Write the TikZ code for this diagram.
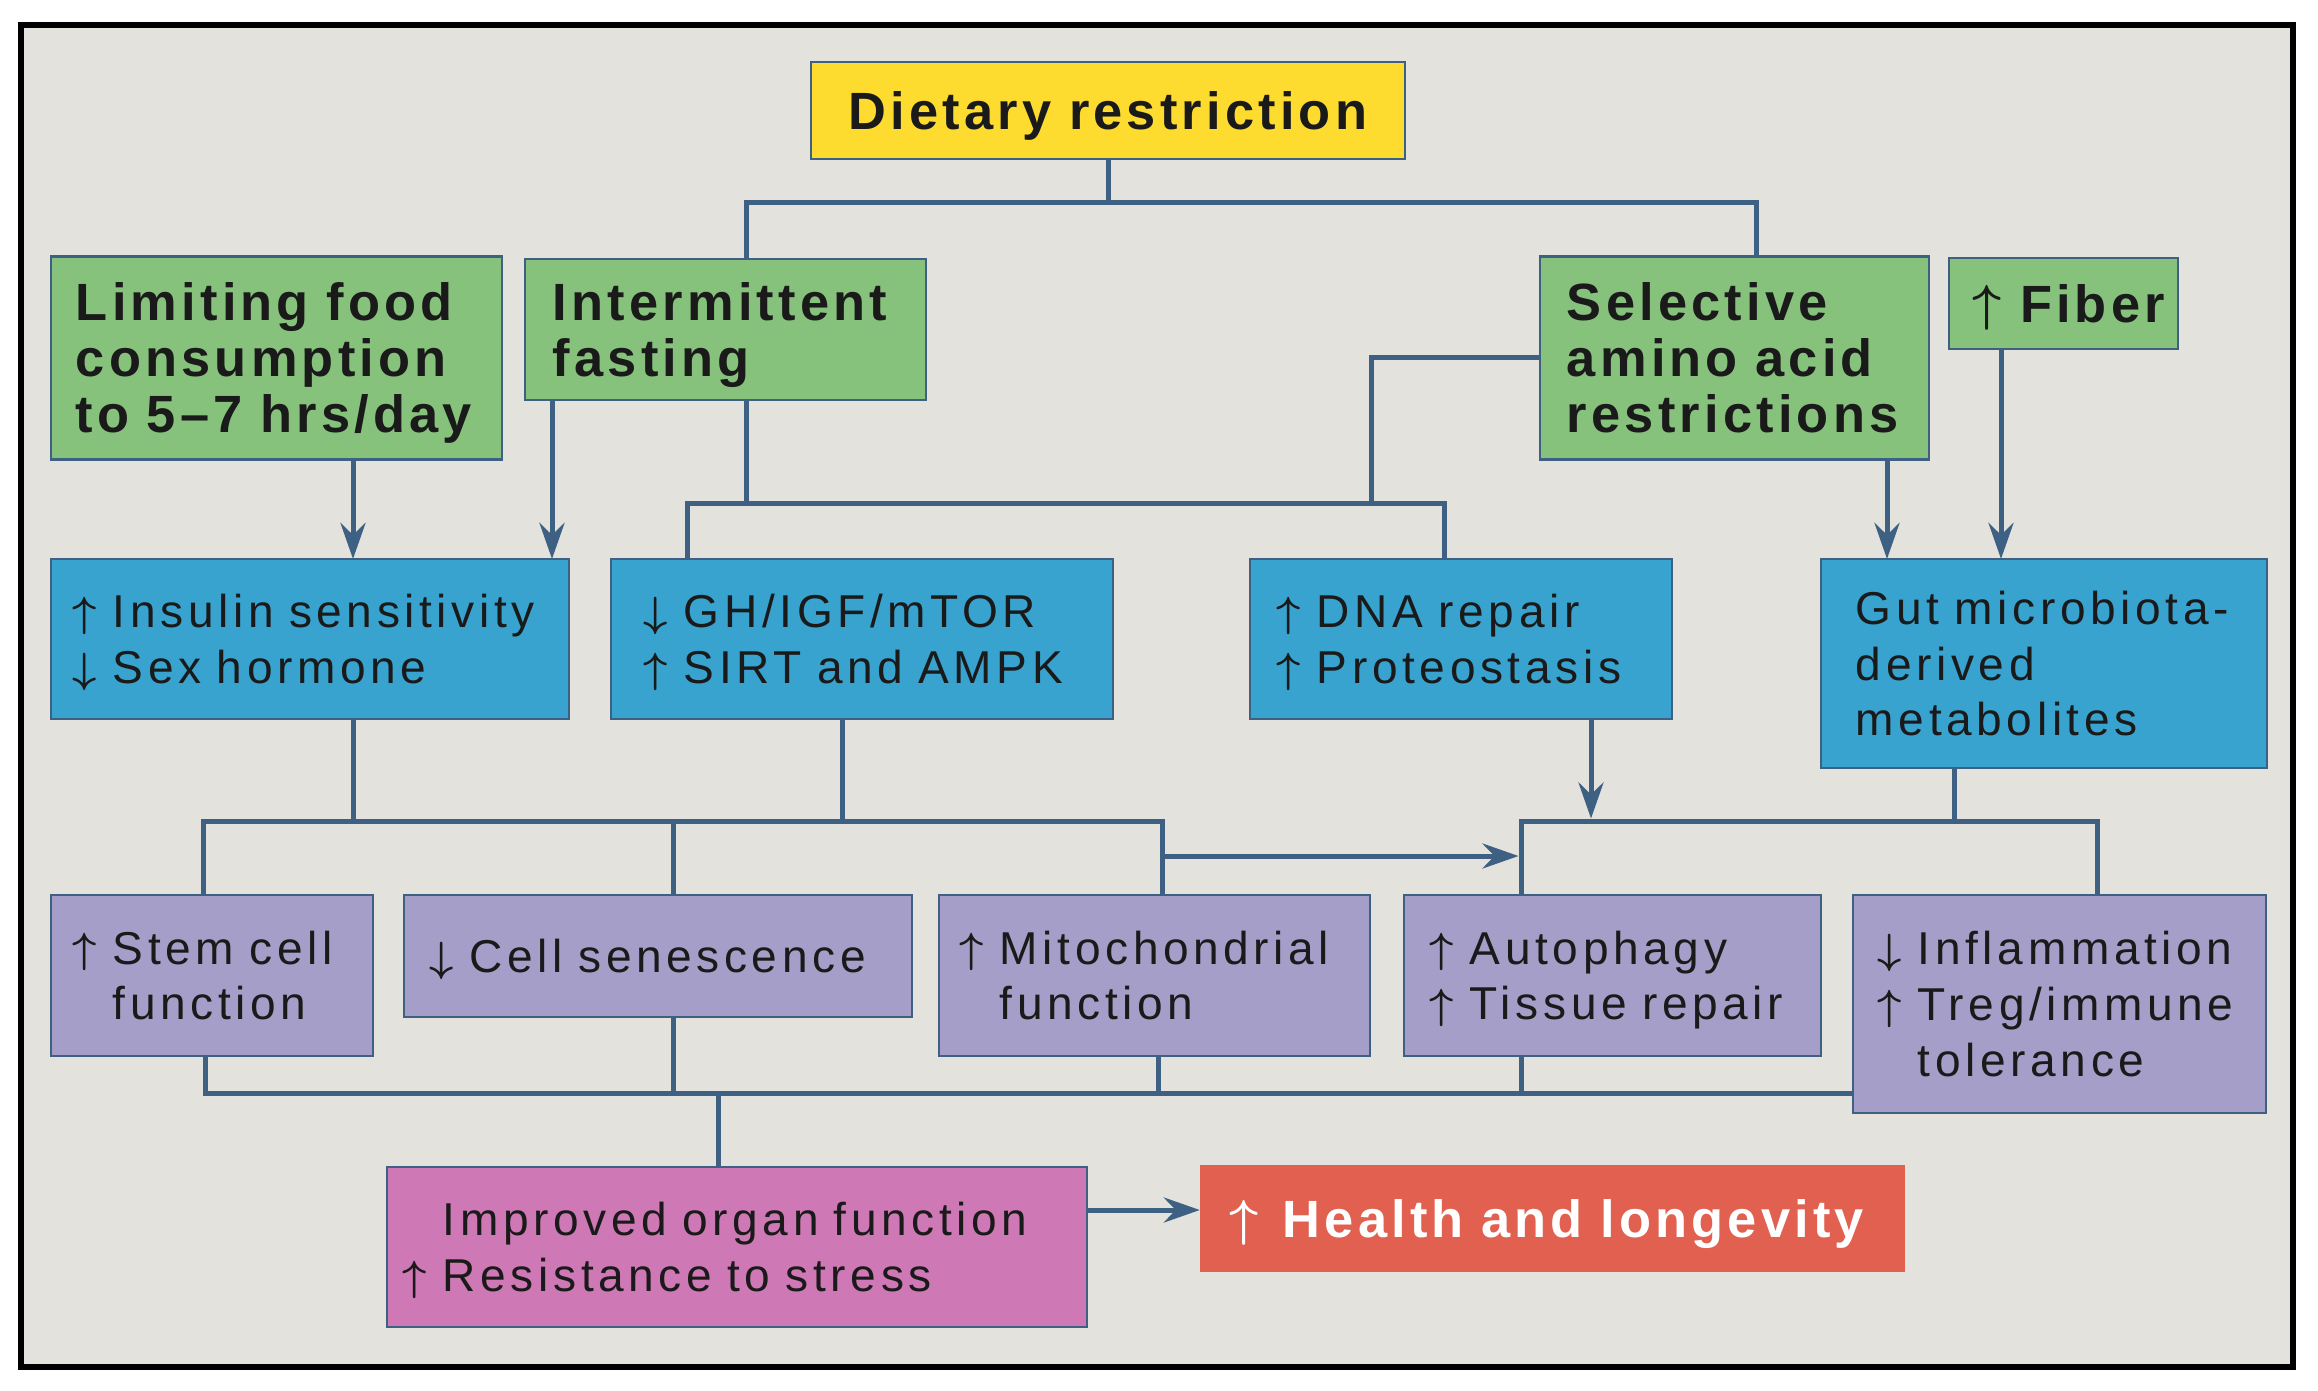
\documentclass[tikz,border=0pt]{standalone}
\usepackage{fontspec}
\setmainfont{Liberation Sans}[LetterSpace=10, BoldFeatures={LetterSpace=8}]
\usetikzlibrary{arrows.meta}
\definecolor{bgc}{HTML}{E4E2DD}
\definecolor{yel}{HTML}{FDDB2F}
\definecolor{grn}{HTML}{87C27D}
\definecolor{blu}{HTML}{38A3CF}
\definecolor{pur}{HTML}{A59EC8}
\definecolor{pnk}{HTML}{CE78B5}
\definecolor{redc}{HTML}{E2604F}
\definecolor{lnc}{HTML}{3D6083}
\definecolor{txc}{HTML}{1A1A1A}
\newcommand\UpA{\makebox[0.40cm][l]{\raisebox{0.03em}{\boldmath$\uparrow$}}}
\newcommand\DnA{\makebox[0.40cm][l]{\raisebox{0.03em}{\boldmath$\downarrow$}}}
\newcommand\IndA{\hspace*{0.40cm}}
\newcommand\UpB{\makebox[0.47cm][l]{\raisebox{0.03em}{\boldmath$\uparrow$}}}
\newcommand\UpH{\makebox[0.53cm][l]{\raisebox{0.03em}{\boldmath$\uparrow$}}}
\newcommand\TopS{\rule{0pt}{0.95em}}
\newcommand\BotS{\rule[-0.234em]{0pt}{0.234em}}
\tikzset{
  box/.style={draw=lnc, line width=0.025cm, inner ysep=0pt, outer sep=0pt, align=left, text=txc},
  bfont/.style={font=\fontsize{14.9}{15.9}\selectfont\bfseries},
  rfont/.style={font=\fontsize{13.1}{15.9}\selectfont},
  conn/.style={draw=lnc, line width=0.05cm},
  arr/.style={conn, -{Stealth[length=0.36cm,width=0.25cm,inset=0.12cm]}},
}
\begin{document}
\begin{tikzpicture}[x=0.01cm,y=-0.01cm]
\useasboundingbox (0,0) rectangle (2318,1390);
\fill[white] (0,0) rectangle (2318,1390);
\draw[line width=0.06cm, fill=bgc] (21,24.5) rectangle (2293,1367);

% top
\node[box,bfont,fill=yel,align=center,minimum width=5.94cm,minimum height=0.97cm,text width=5.24cm,inner xsep=0.35cm] (dr) at (1108,110.5) {\TopS Dietary~restriction\BotS};

% green row
\node[box,bfont,fill=grn,minimum width=4.51cm,minimum height=2.03cm,text width=4.01cm,inner xsep=0.25cm] (lim) at (276.5,358) {\TopS Limiting~food\\consumption\\to~5–7~hrs/day\BotS};
\node[box,bfont,fill=grn,minimum width=4.01cm,minimum height=1.41cm,text width=3.45cm,inner xsep=0.28cm] (int) at (725.5,329.5) {\TopS Intermittent\\fasting\BotS};
\node[box,bfont,fill=grn,minimum width=3.89cm,minimum height=2.03cm,text width=3.35cm,inner xsep=0.27cm] (sel) at (1734.5,358) {\TopS Selective\\amino~acid\\restrictions\BotS};
\node[box,bfont,fill=grn,minimum width=2.29cm,minimum height=0.91cm,text width=1.81cm,inner xsep=0.24cm] (fib) at (2063.5,303.5) {\TopS\UpB Fiber\BotS};

% blue row
\node[box,rfont,fill=blu,minimum width=5.18cm,minimum height=1.60cm,text width=4.74cm,inner xsep=0.22cm] (ins) at (310,639) {\TopS\UpA Insulin~sensitivity\\\DnA Sex~hormone\BotS};
\node[box,rfont,fill=blu,minimum width=5.02cm,minimum height=1.60cm,text width=4.36cm,inner xsep=0.33cm] (gh) at (862,639) {\TopS\DnA GH/IGF/mTOR\\\UpA SIRT~and~AMPK\BotS};
\node[box,rfont,fill=blu,minimum width=4.22cm,minimum height=1.60cm,text width=3.68cm,inner xsep=0.27cm] (dna) at (1461,639) {\TopS\UpA DNA~repair\\\UpA Proteostasis\BotS};
\node[box,rfont,fill=blu,minimum width=4.46cm,minimum height=2.09cm,text width=3.76cm,inner xsep=0.35cm] (gut) at (2044,663.5) {\TopS Gut~microbiota-\\derived\\metabolites\BotS};

% purple row
\node[box,rfont,fill=pur,minimum width=3.22cm,minimum height=1.61cm,text width=2.78cm,inner xsep=0.22cm] (stem) at (212,975.5) {\TopS\UpA Stem~cell\\\IndA function\BotS};
\node[box,rfont,fill=pur,minimum width=5.08cm,minimum height=1.22cm,text width=4.56cm,inner xsep=0.26cm] (sen) at (658,956) {\TopS\DnA Cell~senescence\BotS};
\node[box,rfont,fill=pur,minimum width=4.31cm,minimum height=1.61cm,text width=3.89cm,inner xsep=0.21cm] (mito) at (1154.5,975.5) {\TopS\UpA Mitochondrial\\\IndA function\BotS};
\node[box,rfont,fill=pur,minimum width=4.17cm,minimum height=1.61cm,text width=3.65cm,inner xsep=0.26cm] (aut) at (1612.5,975.5) {\TopS\UpA Autophagy\\\UpA Tissue~repair\BotS};
\node[box,rfont,fill=pur,minimum width=4.13cm,minimum height=2.18cm,text width=3.63cm,inner xsep=0.25cm] (inf) at (2059.5,1004) {\TopS\DnA Inflammation\\\UpA Treg/immune\\\IndA tolerance\BotS};

% bottom row
\node[box,rfont,fill=pnk,minimum width=7.00cm,minimum height=1.60cm,text width=6.68cm,inner xsep=0.16cm] (imp) at (737,1247) {\TopS\IndA Improved~organ~function\\\UpA Resistance~to~stress\BotS};
\node[box,bfont,draw=none,fill=redc,text=white,minimum width=7.05cm,minimum height=1.07cm,text width=6.45cm,inner xsep=0.30cm] (hl) at (1552.5,1218.5) {\TopS\UpH Health~and~longevity\BotS};

% junctions
\coordinate (jdr) at (1108,202);
\coordinate (jmid) at (746,503);
\coordinate (jsel) at (1371,503);
\coordinate (jl) at (1162,821);
\coordinate (jr) at (2097,821);
\coordinate (jm) at (1162,856);
\coordinate (jar) at (1521,856);
\coordinate (jb) at (718,1093);

% connectors from the top
\draw[conn] (dr.south) -- (jdr);
\draw[conn] (int.north -| 746,0) |- (jdr) -| (sel.north -| 1756,0);
\draw[arr] (lim.south -| 353,0) -- (ins.north -| 353,0);
\draw[arr] (int.south -| 552,0) -- (ins.north -| 552,0);
\draw[conn] (int.south -| 746,0) -- (jmid);
\draw[conn] (gh.north -| 687,0) |- (jmid) -| (dna.north -| 1444,0);
\draw[conn] (sel.west |- 0,357) -| (jsel);
\draw[arr] (sel.south -| 1887,0) -- (gut.north -| 1887,0);
\draw[arr] (fib.south -| 2001,0) -- (gut.north -| 2001,0);

% middle connectors
\draw[conn] (ins.south -| 353,0) -- (353,821);
\draw[conn] (gh.south -| 842,0) -- (842,821);
\draw[conn] (stem.north -| 203,0) |- (jl) -- (mito.north -| 1162,0);
\draw[conn] (sen.north -| 673,0) -- (673,821);
\draw[arr, shorten >=0.025cm] (jm) -- (jar);
\draw[conn] (aut.north -| 1521,0) |- (jr) -- (inf.north -| 2097,0);
\draw[arr, shorten >=0.025cm] (dna.south -| 1591,0) -- (1591,821);
\draw[conn] (gut.south -| 1954,0) -- (1954,821);

% bottom connectors
\draw[conn] (stem.south -| 205,0) |- (inf.west |- 0,1093);
\draw[conn] (sen.south -| 673,0) -- (673,1093);
\draw[conn] (mito.south -| 1158,0) -- (1158,1093);
\draw[conn] (aut.south -| 1521,0) -- (1521,1093);
\draw[conn] (jb) -- (imp.north -| jb);
\draw[arr] (imp.east |- 0,1210) -- (hl.west |- 0,1210);
\end{tikzpicture}
\end{document}
